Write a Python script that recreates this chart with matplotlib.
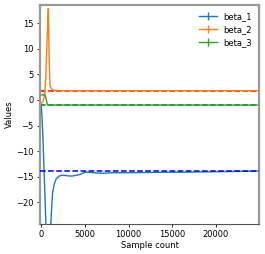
import matplotlib
matplotlib.use('Agg')
import matplotlib.pyplot as plt

# Sample counts at which the estimates were recorded.
samples = [0, 100, 200, 300, 400, 500, 600, 700, 800, 900, 1000, 1100,
           1200, 1300, 1500, 1700, 2000, 2300, 2600, 3000, 3500, 4000,
           4500, 5000, 5500, 6000, 7000, 8000, 9000, 10000, 12000, 14000,
           16000, 18000, 20000, 22000, 24000, 25000]

beta_1 = [-1.0, -4.0, -8.0, -13.0, -18.0, -23.0, -28.0, -32.0, -34.0, -33.0,
          -28.0, -24.0, -20.5, -18.0, -16.3, -15.4, -14.9, -14.7, -14.7,
          -14.8, -14.85, -14.7, -14.5, -14.1, -14.1, -14.2, -14.3, -14.2,
          -14.2, -14.2, -14.15, -14.1, -14.1, -14.05, -14.0, -13.95, -13.9,
          -13.85]

beta_2 = [-0.6, -0.5, -0.2, 0.3, 1.5, 4.0, 9.0, 13.5, 17.8, 8.0, 2.8, 2.4,
          2.1, 2.0, 1.9, 1.85, 1.8, 1.8, 1.8, 1.8, 1.8, 1.8, 1.8, 1.8, 1.8,
          1.8, 1.8, 1.8, 1.8, 1.8, 1.8, 1.8, 1.8, 1.8, 1.8, 1.8, 1.8, 1.8]

beta_3 = [1.0, 1.0, 1.0, 1.0, 1.0, 0.6, -0.2, -1.0, -1.0, -1.0, -1.0, -1.0,
          -1.0, -1.0, -1.0, -1.0, -1.0, -1.0, -1.0, -1.0, -1.0, -1.0, -1.0,
          -1.0, -1.0, -1.0, -1.0, -1.0, -1.0, -1.0, -1.0, -1.0, -1.0, -1.0,
          -1.0, -1.0, -1.0, -1.0]

# True parameter values (dashed reference lines).
true_values = [-13.9, 1.8, -1.0]
true_colors = ['b', 'r', 'g']
true_zorder = [4, 1, 1]

labels = ['beta_1', 'beta_2', 'beta_3']

fig = plt.figure(figsize=(2.65, 2.54), dpi=100)
ax = fig.add_axes([0.151, 0.118, 0.826, 0.862])

for series, label in zip([beta_1, beta_2, beta_3], labels):
    ax.errorbar(samples, series, yerr=0, label=label, linewidth=1.0,
                zorder=2)

for value, color, z in zip(true_values, true_colors, true_zorder):
    ax.axhline(value, color=color, linestyle='--', linewidth=1.1, zorder=z)

ax.set_xlim(-150, 24950)
ax.set_ylim(-24.2, 18.5)
ax.set_xticks([0, 5000, 10000, 15000, 20000])
ax.set_yticks([-20, -15, -10, -5, 0, 5, 10, 15])
ax.tick_params(labelsize=6, length=2.5, width=0.6, pad=2)
ax.set_xlabel('Sample count', fontsize=6, labelpad=1)
ax.set_ylabel('Values', fontsize=6, labelpad=2)

for side in ['left', 'top', 'right']:
    ax.spines[side].set_color('#999999')
    ax.spines[side].set_linewidth(1.6)
ax.spines['bottom'].set_color('#555555')
ax.spines['bottom'].set_linewidth(0.8)

ax.legend(loc='upper right', fontsize=6, frameon=False, handlelength=2.2,
          borderaxespad=0.4, labelspacing=0.5)

fig.savefig('out.png', dpi=100)
